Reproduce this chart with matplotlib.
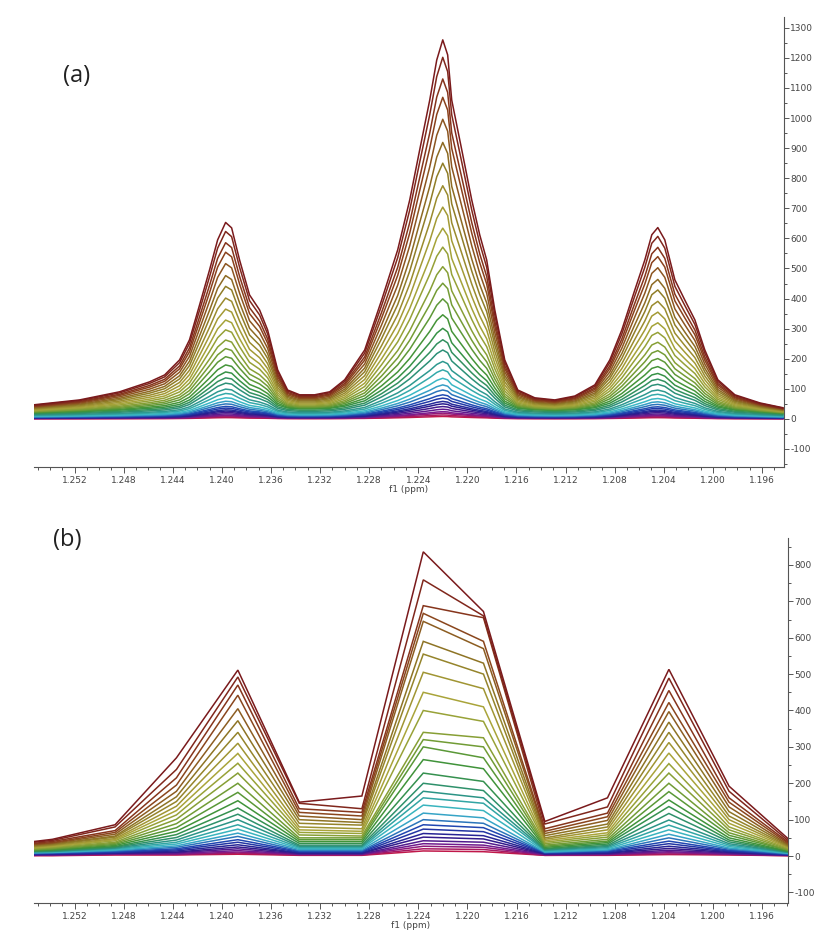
import matplotlib

matplotlib.use("Agg")
import matplotlib.pyplot as plt
import numpy as np
from matplotlib.colors import LinearSegmentedColormap
from matplotlib.ticker import FormatStrFormatter, MultipleLocator


# ---- panel (a): smooth spectra -------------------------------------------
# chemical shift grid (ppm) along which the outer traces were read
PPM_A = [
    1.25526, 1.25159, 1.24833, 1.24589, 1.24466, 1.24344, 1.24263, 1.24181,
    1.24100, 1.24034, 1.23969, 1.23920, 1.23855, 1.23774, 1.23692, 1.23627,
    1.23545, 1.23464, 1.23366, 1.23244, 1.23121, 1.22999, 1.22836, 1.22698,
    1.22567, 1.22469, 1.22388, 1.22306, 1.22249, 1.22200, 1.22160, 1.22127,
    1.22045, 1.21964, 1.21899, 1.21842, 1.21776, 1.21695, 1.21589, 1.21450,
    1.21287, 1.21124, 1.20961, 1.20839, 1.20741, 1.20635, 1.20554, 1.20497,
    1.20448, 1.20391, 1.20309, 1.20228, 1.20146, 1.20065, 1.19959, 1.19820,
    1.19616, 1.19429,
]
# highest (dark red) trace
TOP_A = [
    47, 63, 90, 123, 146, 196, 263, 379,
    495, 595, 653, 635, 528, 412, 362, 296,
    163, 96, 80, 80, 90, 130, 229, 395,
    562, 728, 894, 1060, 1193, 1260, 1210, 1060,
    894, 728, 612, 528, 362, 196, 96, 70,
    63, 76, 113, 196, 296, 429, 528, 612,
    636, 595, 462, 395, 329, 229, 130, 80,
    53, 37,
]
# a mid (green) trace, broader wings relative to its peaks
MID_A = [
    20, 24, 29, 35, 39, 48, 63, 90,
    118, 142, 156, 152, 127, 100, 88, 74,
    46, 36, 33, 33, 35, 42, 60, 96,
    136, 175, 214, 253, 285, 301, 289, 253,
    214, 175, 147, 127, 90, 52, 35, 30,
    28, 30, 37, 52, 74, 104, 127, 146,
    151, 142, 112, 96, 81, 58, 39, 29,
    23, 18,
]
# height of the 1.222 ppm line for every spectrum, top to bottom
HEIGHTS_A = [
    1260, 1202, 1130, 1069, 996, 919, 850, 775, 704, 634, 571,
    506, 451, 399, 346, 301, 263, 229, 191, 163, 135, 113,
    96, 80, 69, 58, 50, 41, 32, 24, 19, 13, 8,
]

# ---- panel (b): coarsely sampled spectra ----------------------------------
PPM_B = [1.2553, 1.2538, 1.2487, 1.2437, 1.2387, 1.2337, 1.2286,
         1.2236, 1.2187, 1.2137, 1.2086, 1.2036, 1.1987, 1.1938]
# one list per ppm point, spectra ordered top to bottom
B_1255 = [40, 38, 35, 33, 31, 29, 27, 25, 23, 22, 20, 18, 17, 15, 14,
          13, 12, 11, 10, 9, 8, 7, 6, 5, 4, 4, 3, 2, 2, 1]
B_1254 = [46, 43, 40, 37, 35, 33, 31, 29, 27, 25, 23, 21, 19, 17, 16,
          14, 13, 12, 11, 10, 9, 8, 7, 6, 5, 4, 3, 3, 2, 1]
B_1249 = [86, 80, 70, 65, 60, 55, 52, 48, 45, 42, 38, 35, 32, 29, 26,
          24, 22, 20, 18, 16, 14, 12, 10, 9, 8, 7, 6, 5, 4, 3]
B_1244 = [270, 238, 215, 195, 178, 163, 150, 137, 125, 113, 101, 89, 78, 68, 59,
          51, 44, 38, 33, 28, 24, 20, 17, 14, 11, 9, 7, 5, 4, 3]
B_1239 = [511, 492, 470, 442, 405, 372, 340, 310, 282, 255, 228, 200, 175, 152, 132,
          115, 100, 86, 74, 63, 54, 45, 38, 31, 25, 20, 15, 11, 8, 5]
B_1234 = [148, 145, 130, 120, 110, 100, 90, 80, 72, 65, 58, 50, 45, 40, 35,
          30, 27, 24, 21, 18, 15, 13, 11, 9, 8, 6, 5, 4, 3, 2]
B_1229 = [165, 130, 120, 110, 100, 92, 85, 75, 68, 62, 55, 50, 45, 40, 35,
          30, 27, 24, 21, 18, 15, 13, 11, 9, 8, 6, 5, 4, 3, 2]
B_1224 = [836, 759, 688, 667, 645, 590, 555, 505, 450, 400, 340, 320, 300, 265, 228,
          200, 178, 160, 140, 118, 100, 86, 74, 62, 52, 42, 34, 27, 20, 14]
B_1219 = [672, 660, 655, 590, 570, 530, 500, 460, 410, 370, 325, 300, 270, 240, 205,
          180, 160, 145, 125, 105, 90, 78, 67, 56, 47, 38, 30, 24, 18, 12]
B_1214 = [95, 88, 75, 68, 62, 56, 50, 46, 42, 38, 34, 30, 27, 24, 21,
          19, 17, 15, 13, 11, 10, 9, 8, 7, 6, 5, 4, 3, 2, 2]
B_1209 = [160, 135, 118, 108, 98, 88, 80, 72, 64, 58, 52, 46, 41, 37, 33,
          29, 26, 23, 20, 17, 15, 13, 11, 9, 8, 6, 5, 4, 3, 2]
B_1204 = [513, 489, 455, 422, 397, 368, 340, 312, 283, 254, 228, 200, 177, 154, 136,
          117, 99, 85, 72, 60, 50, 41, 34, 27, 21, 16, 12, 9, 6, 4]
B_1199 = [192, 178, 160, 148, 135, 122, 110, 100, 90, 80, 72, 64, 57, 50, 44,
          39, 34, 30, 26, 22, 19, 16, 14, 12, 10, 8, 6, 5, 4, 3]
B_1194 = [45, 40, 36, 33, 30, 28, 26, 24, 22, 20, 18, 16, 15, 13, 12,
          11, 10, 9, 8, 7, 6, 5, 4, 4, 3, 3, 2, 2, 1, 1]
COLUMNS_B = [B_1255, B_1254, B_1249, B_1244, B_1239, B_1234, B_1229,
             B_1224, B_1219, B_1214, B_1209, B_1204, B_1199, B_1194]

# stacked-spectra colour ramp, top trace first
_STACK_COLORS = ["#7a1a1c", "#8a3f1c", "#8e7a26", "#aaa43a", "#7e9e34",
                 "#3a923a", "#2a9080", "#3cbccc", "#1f44b0", "#2a1a8c",
                 "#7a1a8e", "#c0184a"]
_AXIS_COLOR = "#555555"
_TEXT_COLOR = "#444444"

stack_cmap = LinearSegmentedColormap.from_list("stack", _STACK_COLORS)


def style_axis(ax, xlim, ylim):
    ax.set_xlim(xlim)
    ax.set_ylim(ylim)
    for side in ("left", "top"):
        ax.spines[side].set_visible(False)
    for side in ("right", "bottom"):
        ax.spines[side].set_color(_AXIS_COLOR)
        ax.spines[side].set_linewidth(0.8)
    ax.yaxis.tick_right()
    ax.yaxis.set_major_locator(MultipleLocator(100))
    ax.yaxis.set_minor_locator(MultipleLocator(50))
    ax.yaxis.set_major_formatter(FormatStrFormatter("%d"))
    ax.xaxis.set_major_locator(MultipleLocator(0.004))
    ax.xaxis.set_minor_locator(MultipleLocator(0.001))
    ax.xaxis.set_major_formatter(FormatStrFormatter("%.3f"))
    ax.tick_params(which="both", direction="out", colors=_AXIS_COLOR,
                   labelcolor=_TEXT_COLOR, labelsize=6.5, width=0.7)
    ax.tick_params(axis="y", which="major", length=3.5, pad=1)
    ax.tick_params(axis="y", which="minor", length=2)
    ax.tick_params(axis="x", which="major", length=4, pad=2.5)
    ax.tick_params(axis="x", which="minor", length=2.5)
    ax.set_xlabel("f1 (ppm)", fontsize=6.5, color=_TEXT_COLOR, labelpad=0)


def plot_panel_a(ax):
    top = np.array(TOP_A, dtype=float)
    mid = np.array(MID_A, dtype=float)
    top_peak, mid_peak = top.max(), mid.max()
    n = len(HEIGHTS_A)
    # draw lowest spectrum first so the tall ones sit on top
    for i in reversed(range(n)):
        h = HEIGHTS_A[i]
        if h >= mid_peak:
            t = (h - mid_peak) / (top_peak - mid_peak)
            trace = mid + t * (top - mid)
        else:
            trace = mid * h / mid_peak
        ax.plot(PPM_A, trace, color=stack_cmap(i / (n - 1)), lw=1.1,
                solid_joinstyle="round", zorder=3 + n - i)


def plot_panel_b(ax):
    table = np.array(COLUMNS_B, dtype=float).T
    n = table.shape[0]
    for i in reversed(range(n)):
        ax.plot(PPM_B, table[i], color=stack_cmap(i / (n - 1)), lw=1.1,
                solid_joinstyle="miter", zorder=3 + n - i)


fig = plt.figure(figsize=(8.14, 9.36), dpi=100)
W, H = 814, 936

ax_a = fig.add_axes([34 / W, 1 - 467 / H, (784 - 34) / W, (467 - 17) / H])
plot_panel_a(ax_a)
style_axis(ax_a, (1.2553, 1.1942), (-160, 1336))

ax_b = fig.add_axes([34 / W, 1 - 903 / H, (788 - 34) / W, (903 - 538) / H])
plot_panel_b(ax_b)
style_axis(ax_b, (1.2553, 1.1939), (-129, 874))

fig.text(63 / W, 1 - 76 / H, "(a)", fontsize=17, family="Open Sans",
         color="#222222", va="center", ha="left")
fig.text(53 / W, 1 - 540 / H, "(b)", fontsize=17, family="Open Sans",
         color="#222222", va="center", ha="left")

fig.savefig("out.png", dpi=100)
